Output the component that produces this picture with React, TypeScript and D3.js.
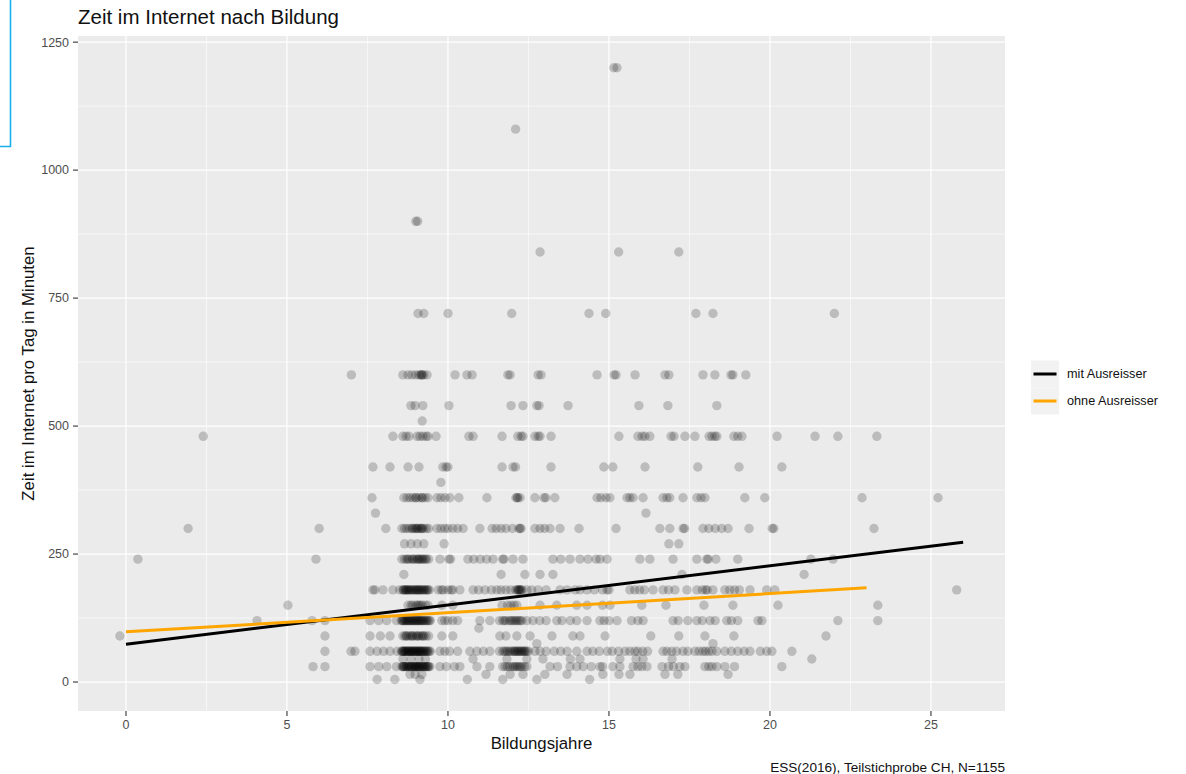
import React from 'react';
import * as d3 from 'd3';

// ---- axis ticks ----
const xTicks = [0, 5, 10, 15, 20, 25];
const xMinor = [2.5, 7.5, 12.5, 17.5, 22.5];
const yTicks = [0, 250, 500, 750, 1000, 1250];
const yMinor = [125, 375, 625, 875, 1125];

// ---- scatter data: education years (jittered) per internet-minutes level ----
const min1200 = [15.15, 15.25];
const min1080 = [12.1];
const min900 = [9.0, 9.06];
const min840 = [12.86, 15.3, 17.17];
const min720 = [9.07, 9.25, 10.0, 11.98, 14.38, 14.9, 17.7, 18.23, 22.0];
const min600 = [7.0, 8.6, 8.76, 8.88, 9.0, 9.1, 9.16, 9.18, 9.2, 9.25, 9.35, 10.22, 10.59, 10.75, 11.86, 11.93, 12.8, 12.89, 14.63, 15.16, 15.22, 15.81, 16.74, 16.86, 17.92, 18.29, 18.79, 18.85, 19.25];
const min540 = [8.85, 8.98, 9.22, 10.03, 11.96, 12.33, 12.76, 12.83, 13.73, 15.93, 16.83, 18.35];
const min510 = [9.2];
const min480 = [2.4, 8.29, 8.6, 8.7, 8.79, 9.04, 9.13, 9.22, 9.32, 9.38, 9.63, 10.65, 10.78, 11.68, 12.17, 12.27, 12.33, 12.7, 12.8, 12.86, 13.2, 15.31, 15.9, 16.03, 16.12, 16.27, 16.93, 17.02, 17.36, 17.67, 18.11, 18.2, 18.29, 18.35, 18.88, 19.0, 19.13, 20.22, 21.4, 22.11, 23.32];
const min420 = [7.67, 8.2, 8.76, 9.1, 9.84, 9.94, 10.0, 11.68, 12.02, 12.1, 13.2, 14.84, 15.12, 16.12, 17.76, 19.04, 20.37];
const min390 = [9.78];
const min360 = [7.64, 8.63, 8.73, 8.82, 8.91, 9.0, 9.01, 9.1, 9.19, 9.2, 9.29, 9.38, 9.66, 9.78, 9.91, 10.06, 10.34, 11.21, 12.11, 12.15, 12.17, 12.24, 12.7, 12.98, 13.04, 13.32, 14.63, 14.75, 14.91, 15.03, 15.56, 15.65, 15.75, 16.06, 16.68, 16.8, 16.89, 17.3, 17.73, 17.86, 17.98, 19.22, 19.84, 22.86, 25.22];
const min330 = [7.75, 16.15];
const min300 = [1.93, 6.0, 8.07, 8.57, 8.65, 8.72, 8.8, 8.88, 8.95, 9.0, 9.03, 9.1, 9.15, 9.18, 9.25, 9.33, 9.4, 8.9, 9.05, 9.2, 9.66, 9.78, 9.9, 10.0, 10.15, 10.3, 10.47, 10.99, 11.37, 11.5, 11.65, 11.8, 12.0, 12.2, 12.24, 12.27, 12.7, 12.86, 13.0, 13.17, 13.48, 14.07, 15.22, 16.58, 16.89, 17.3, 17.35, 17.92, 18.1, 18.3, 18.5, 18.7, 19.35, 20.07, 20.12, 23.23];
const min270 = [8.65, 8.85, 9.05, 9.25, 9.88, 16.86, 17.17];
const min240 = [0.37, 5.9, 8.57, 8.65, 8.72, 8.8, 8.88, 8.95, 9.03, 9.05, 9.1, 9.18, 9.2, 9.25, 9.33, 9.4, 8.75, 8.92, 9.12, 9.3, 9.75, 10.03, 10.08, 10.62, 10.8, 11.0, 11.2, 11.4, 11.7, 11.74, 12.02, 12.33, 13.26, 13.5, 13.79, 14.1, 14.35, 14.6, 14.72, 14.94, 15.96, 16.27, 16.99, 17.73, 18.04, 18.08, 18.32, 19.0, 21.27, 21.96];
const min210 = [8.63, 11.65, 12.39, 12.86, 13.26, 17.27, 21.06];
const min180 = [7.67, 7.73, 7.98, 8.29, 8.5, 8.6, 8.64, 8.68, 8.72, 8.76, 8.8, 8.85, 8.9, 8.95, 9.0, 9.04, 9.08, 9.12, 9.17, 9.22, 9.27, 9.32, 9.38, 8.62, 8.7, 8.78, 8.87, 8.97, 9.06, 9.15, 9.25, 9.35, 9.42, 9.7, 9.8, 9.85, 10.0, 10.1, 10.15, 10.37, 10.78, 10.95, 11.15, 11.35, 11.52, 11.65, 11.8, 11.95, 12.1, 12.15, 12.2, 12.24, 12.27, 12.18, 12.22, 12.3, 12.45, 12.6, 12.8, 13.05, 13.48, 13.7, 13.95, 14.1, 14.32, 14.55, 14.8, 14.94, 15.0, 15.65, 15.8, 15.95, 16.1, 16.37, 16.68, 16.85, 17.05, 17.42, 17.73, 17.9, 18.0, 18.05, 18.23, 18.6, 18.75, 18.9, 19.05, 19.38, 19.9, 20.15, 25.8];
const min150 = [5.03, 8.76, 8.85, 8.9, 9.0, 9.05, 9.1, 9.15, 9.2, 9.3, 9.38, 9.81, 10.15, 11.68, 11.85, 11.95, 12.05, 12.14, 12.86, 13.38, 14.0, 14.32, 14.8, 15.03, 16.02, 16.77, 17.95, 18.85, 20.25, 23.35];
const min120 = [4.07, 5.78, 6.18, 7.58, 7.85, 8.1, 8.4, 8.55, 8.58, 8.62, 8.66, 8.7, 8.74, 8.78, 8.82, 8.86, 8.9, 8.94, 8.98, 9.02, 9.06, 9.1, 9.14, 9.18, 9.22, 9.27, 9.32, 9.38, 9.45, 8.6, 8.68, 8.76, 8.84, 8.92, 9.0, 9.08, 9.16, 9.24, 9.34, 9.42, 9.81, 9.9, 10.0, 10.15, 10.3, 10.99, 11.3, 11.6, 11.7, 11.8, 11.9, 12.0, 12.05, 12.1, 12.2, 12.3, 12.45, 11.75, 11.95, 12.15, 12.25, 12.64, 12.85, 13.05, 13.38, 13.54, 13.8, 14.0, 14.32, 14.72, 14.85, 15.0, 15.25, 15.7, 15.9, 16.06, 16.99, 17.15, 17.45, 17.73, 17.9, 18.14, 18.3, 18.66, 18.8, 19.0, 19.63, 19.75, 22.11, 23.35];
const min105 = [10.96];
const min90 = [-0.19, 6.18, 7.58, 7.9, 8.2, 8.6, 8.66, 8.72, 8.78, 8.84, 8.9, 8.96, 9.02, 9.08, 9.14, 9.2, 9.26, 9.32, 9.4, 8.7, 8.88, 9.05, 9.22, 9.81, 10.15, 11.61, 11.8, 12.14, 12.55, 13.23, 13.88, 14.1, 14.88, 16.3, 17.17, 17.98, 18.88, 21.74];
const min75 = [12.76, 18.23];
const min60 = [6.18, 6.99, 7.11, 7.58, 7.8, 8.0, 8.2, 8.42, 8.55, 8.58, 8.61, 8.64, 8.67, 8.7, 8.73, 8.76, 8.79, 8.82, 8.85, 8.88, 8.91, 8.94, 8.97, 9.0, 9.03, 9.06, 9.09, 9.12, 9.15, 9.18, 9.21, 9.25, 9.29, 9.33, 9.38, 9.45, 8.6, 8.68, 8.75, 8.83, 8.9, 8.98, 9.05, 9.13, 9.2, 9.28, 9.36, 9.42, 9.75, 9.9, 10.05, 10.3, 10.68, 10.9, 11.1, 11.3, 11.6, 11.7, 11.8, 11.9, 12.0, 12.05, 12.1, 12.15, 12.2, 12.25, 12.3, 12.35, 12.4, 12.5, 11.75, 11.85, 11.95, 12.08, 12.18, 12.28, 12.38, 12.45, 12.7, 12.86, 13.05, 13.3, 13.5, 13.7, 14.0, 14.32, 14.5, 14.7, 14.95, 15.1, 15.3, 15.5, 15.65, 15.8, 15.9, 16.05, 16.2, 16.68, 16.8, 16.95, 17.1, 17.3, 17.45, 17.67, 17.8, 17.92, 18.0, 18.1, 18.2, 18.35, 18.6, 18.8, 19.0, 19.2, 19.38, 19.7, 19.9, 20.06, 20.68];
const min45 = [8.6, 8.85, 9.1, 9.3, 10.78, 11.83, 12.45, 12.95, 13.8, 14.1, 15.34, 15.84, 16.06, 16.96, 21.3];
const min30 = [5.81, 6.18, 7.58, 7.85, 8.1, 8.4, 8.57, 8.6, 8.63, 8.66, 8.7, 8.74, 8.78, 8.82, 8.86, 8.9, 8.94, 8.98, 9.0, 9.03, 9.06, 9.1, 9.13, 9.17, 9.2, 9.24, 9.28, 9.32, 9.36, 9.4, 9.44, 8.62, 8.72, 8.8, 8.88, 8.96, 9.04, 9.12, 9.22, 9.3, 9.38, 9.75, 9.95, 10.2, 10.37, 10.9, 11.3, 11.7, 11.85, 12.0, 12.1, 12.2, 12.3, 12.45, 11.78, 11.92, 12.05, 12.15, 12.25, 12.38, 13.17, 13.4, 13.79, 14.0, 14.2, 14.45, 14.72, 14.8, 15.12, 15.34, 15.75, 15.9, 16.02, 16.18, 16.65, 16.85, 17.0, 17.2, 17.36, 17.98, 18.1, 18.2, 18.35, 18.6, 18.9, 20.37];
const min15 = [8.82, 8.98, 9.19, 11.18, 11.93, 12.33, 13.01, 13.7, 14.81, 15.31, 15.65, 16.74, 17.14, 18.7];
const min5 = [7.8, 8.35, 9.13, 10.6, 11.7, 12.76, 14.4];

const rows: [number, number[]][] = [
  [1200, min1200], [1080, min1080], [900, min900], [840, min840], [720, min720],
  [600, min600], [540, min540], [510, min510], [480, min480], [420, min420],
  [390, min390], [360, min360], [330, min330], [300, min300], [270, min270],
  [240, min240], [210, min210], [180, min180], [150, min150], [120, min120],
  [105, min105], [90, min90], [75, min75], [60, min60], [45, min45],
  [30, min30], [15, min15], [5, min5],
];

// ---- regression lines ----
const lineWith = [[0, 74], [26.0, 273]];
const lineWithout = [[0, 98], [23.0, 184]];
const legendLabels = ['mit Ausreisser', 'ohne Ausreisser'];
const legendColors = ['#000000', '#FFA500'];

const FONT = "'Liberation Sans', Arial, Helvetica, sans-serif";

export default function App() {
  const W = 1186, H = 774;
  const left = 78, right = 1005, top = 36, bottom = 711;
  const x = d3.scaleLinear().domain([-1.49, 27.3]).range([left, right]);
  const y = d3.scaleLinear().domain([-56.6, 1262]).range([bottom, top]);
  const pts = rows.flatMap(([v, xs]) => xs.map((e) => [e, v]));
  const line = d3.line<number[]>().x((d) => x(d[0])).y((d) => y(d[1]));

  return (
    <svg width={W} height={H} style={{ position: 'absolute', left: 0, top: 0, background: '#fff' }} fontFamily={FONT}>
      <rect x={0} y={0} width={W} height={H} fill="#fff" />
      <path d="M10.5,0 V146.5 H0" fill="none" stroke="#1ab0ee" strokeWidth={1.6} />
      <rect x={left} y={top} width={right - left} height={bottom - top} fill="#ebebeb" />
      {xMinor.map((t) => (
        <line key={'xm' + t} x1={x(t)} x2={x(t)} y1={top} y2={bottom} stroke="#fff" strokeWidth={0.6} />
      ))}
      {yMinor.map((t) => (
        <line key={'ym' + t} x1={left} x2={right} y1={y(t)} y2={y(t)} stroke="#fff" strokeWidth={0.6} />
      ))}
      {xTicks.map((t) => (
        <line key={'xM' + t} x1={x(t)} x2={x(t)} y1={top} y2={bottom} stroke="#fff" strokeWidth={1.2} />
      ))}
      {yTicks.map((t) => (
        <line key={'yM' + t} x1={left} x2={right} y1={y(t)} y2={y(t)} stroke="#fff" strokeWidth={1.2} />
      ))}
      <g>
        {pts.map((p, i) => (
          <circle key={i} cx={x(p[0])} cy={y(p[1])} r={4.7} fill="#000" fillOpacity={0.2} />
        ))}
      </g>
      <path d={line(lineWith) || ''} fill="none" stroke={legendColors[0]} strokeWidth={3} />
      <path d={line(lineWithout) || ''} fill="none" stroke={legendColors[1]} strokeWidth={3} />
      {yTicks.map((t) => (
        <g key={'yt' + t}>
          <line x1={73} x2={left} y1={y(t)} y2={y(t)} stroke="#333" strokeWidth={1.1} />
          <text x={69} y={y(t)} dy="0.35em" textAnchor="end" fontSize={12.5} fill="#4d4d4d">{t}</text>
        </g>
      ))}
      {xTicks.map((t) => (
        <g key={'xt' + t}>
          <line x1={x(t)} x2={x(t)} y1={bottom} y2={bottom + 5} stroke="#333" strokeWidth={1.1} />
          <text x={x(t)} y={729} textAnchor="middle" fontSize={12.5} fill="#4d4d4d">{t}</text>
        </g>
      ))}
      <text x={78} y={24} fontSize={20.5} fill="#111">Zeit im Internet nach Bildung</text>
      <text x={(left + right) / 2} y={749} textAnchor="middle" fontSize={16.8} fill="#111">Bildungsjahre</text>
      <text transform={`translate(34, ${(top + bottom) / 2}) rotate(-90)`} textAnchor="middle" fontSize={16.8} fill="#111">
        Zeit im Internet pro Tag in Minuten
      </text>
      <text x={right} y={772} textAnchor="end" fontSize={13.6} fill="#111">ESS(2016), Teilstichprobe CH, N=1155</text>
      {legendLabels.map((lab, i) => {
        const cy = 374 + i * 27;
        return (
          <g key={lab}>
            <rect x={1031} y={cy - 13.5} width={28} height={27} fill="#f2f2f2" />
            <line x1={1033.5} x2={1056.5} y1={cy} y2={cy} stroke={legendColors[i]} strokeWidth={3} />
            <text x={1067} y={cy} dy="0.35em" fontSize={12.7} fill="#111">{lab}</text>
          </g>
        );
      })}
    </svg>
  );
}
